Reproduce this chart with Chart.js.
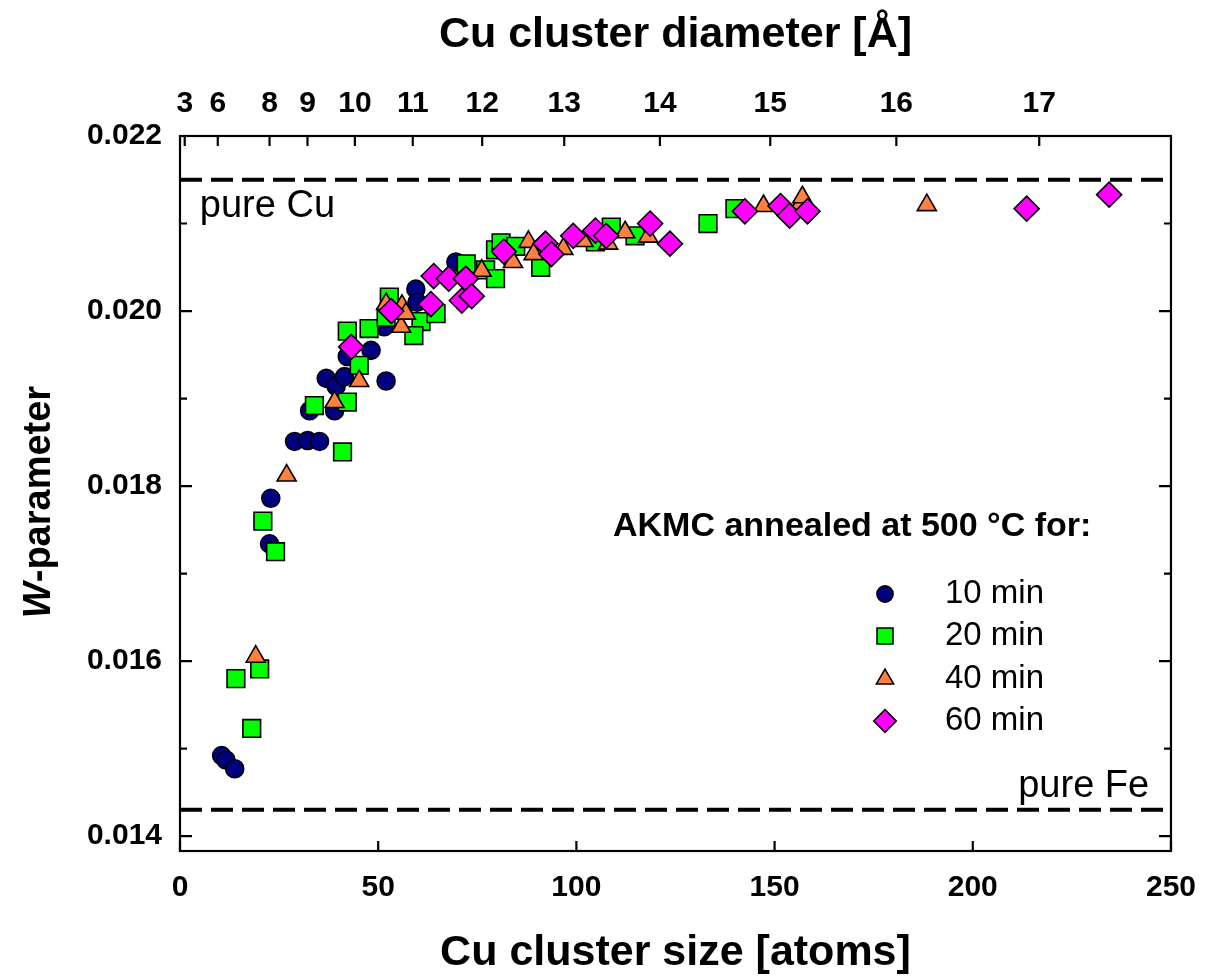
<!DOCTYPE html>
<html>
<head>
<meta charset="utf-8">
<script src="https://cdn.jsdelivr.net/npm/chart.js@4.4.0/dist/chart.umd.min.js"></script>
<style>
  body { margin: 0; background: #fff; }
</style>
</head>
<body>
<canvas id="mycanvas" width="1215" height="979"></canvas>
<script>
/* values */
var seriesNames = ['10 min', '20 min', '40 min', '60 min'];

var size10 = [10.5, 11.6, 13.8, 22.6, 22.9, 28.9, 32.2, 35.2, 32.7, 39.0, 36.9, 39.4, 41.5, 52.0, 42.2, 48.2, 51.5, 59.5, 59.8, 69.6];
var w10 = [0.01492, 0.01487, 0.01477, 0.01734, 0.01786, 0.01851, 0.01852, 0.01851, 0.01886, 0.01886, 0.01923, 0.01914, 0.01925, 0.01920, 0.01948, 0.01955, 0.01982, 0.02025, 0.02010, 0.02056];

var size20 = [14.1, 18.1, 20.1, 20.9, 24.1, 41.0, 33.9, 42.2, 45.2, 42.2, 47.7, 52.8, 52.0, 60.8, 59.0, 64.6, 72.2, 77.1, 79.6, 79.6, 81.0, 84.7, 91.0, 104.8, 108.8, 114.8, 133.2, 140.0];
var w20 = [0.01580, 0.01523, 0.01591, 0.01760, 0.01725, 0.01839, 0.01892, 0.01896, 0.01938, 0.01977, 0.01980, 0.02016, 0.01993, 0.01988, 0.01972, 0.01997, 0.02054, 0.02047, 0.02037, 0.02070, 0.02078, 0.02074, 0.02050, 0.02079, 0.02096, 0.02086, 0.02100, 0.02117];

var size40 = [19.1, 26.9, 39.0, 45.2, 52.0, 55.8, 56.0, 57.0, 76.1, 84.0, 87.9, 89.2, 96.7, 101.8, 108.0, 112.3, 118.1, 147.2, 156.5, 157.0, 188.4];
var w40 = [0.01605, 0.01812, 0.01896, 0.01920, 0.02008, 0.01982, 0.02006, 0.01997, 0.02046, 0.02056, 0.02079, 0.02065, 0.02071, 0.02080, 0.02077, 0.02090, 0.02085, 0.02120, 0.02122, 0.02130, 0.02121];

var size60 = [43.2, 53.3, 63.3, 64.0, 67.8, 72.1, 71.1, 73.6, 81.7, 92.2, 93.7, 99.2, 104.8, 107.5, 118.6, 123.6, 142.5, 151.5, 153.8, 158.3, 213.6, 234.4];
var w60 = [0.01959, 0.02000, 0.02008, 0.02040, 0.02037, 0.02037, 0.02012, 0.02017, 0.02068, 0.02077, 0.02065, 0.02086, 0.02092, 0.02086, 0.02100, 0.02077, 0.02114, 0.02120, 0.02109, 0.02114, 0.02117, 0.02133];

var pureCu = 0.0215;
var pureFe = 0.0143;

/* tick labels */
var xTicks = [0, 50, 100, 150, 200, 250];
var yTicks = [0.014, 0.016, 0.018, 0.020, 0.022];
var yMinor = [0.014, 0.015, 0.016, 0.017, 0.018, 0.019, 0.020, 0.021, 0.022];
var diamLabels = [3, 6, 8, 9, 10, 11, 12, 13, 14, 15, 16, 17];

/* cluster diameter [A] -> number of atoms, for the top axis */
function atomsForDiameter(d) {
	return Math.pow(d / 2.83, 3);
}

function toPoints(xs, ys) {
	var pts = [];
	for (var i in xs) {
		pts.push({x: xs[i], y: ys[i]});
	}
	return pts;
}

var FONT = "'Liberation Sans', Arial, Helvetica, sans-serif";
Chart.defaults.font.family = FONT;
Chart.defaults.color = '#000';

var markers = [
	{style: 'circle', radius: 9, color: '#000080'},
	{style: 'rect', radius: 12.5, color: '#00ff00'},
	{style: 'triangle', radius: 11, color: '#ff8040'},
	{style: 'rectRot', radius: 12.5, color: '#ff00ff'}
];
var seriesData = [toPoints(size10, w10), toPoints(size20, w20), toPoints(size40, w40), toPoints(size60, w60)];

var datasets = [];
for (var s = 0; s < 4; s++) {
	datasets.push({
		label: seriesNames[s],
		data: seriesData[s],
		pointStyle: markers[s].style,
		pointRadius: markers[s].radius,
		pointBackgroundColor: markers[s].color,
		pointBorderColor: '#000',
		pointBorderWidth: 1.6,
		showLine: false,
		order: 3 - s
	});
}

/* pure Cu / pure Fe reference lines */
[pureCu, pureFe].forEach(function(v) {
	datasets.push({
		label: 'ref',
		data: [{x: 0, y: v}, {x: 250, y: v}],
		showLine: true,
		borderColor: '#000',
		borderWidth: 4,
		borderDash: [22, 9],
		pointRadius: 0,
		order: 10
	});
});

/* frame, inward ticks, notes, legend, y title */
var decorPlugin = {
	id: 'decor',
	afterDraw: function(chart) {
		var ctx = chart.ctx, a = chart.chartArea;
		var sx = chart.scales.x, sx2 = chart.scales.x2, sy = chart.scales.y;
		ctx.save();
		ctx.strokeStyle = '#000';
		ctx.lineWidth = 2.2;
		ctx.strokeRect(a.left, a.top, a.right - a.left, a.bottom - a.top);

		ctx.beginPath();
		yMinor.forEach(function(v, i) {
			var p = sy.getPixelForValue(v);
			var len = (i % 2 === 0) ? 12 : 7;
			ctx.moveTo(a.left, p); ctx.lineTo(a.left + len, p);
			ctx.moveTo(a.right, p); ctx.lineTo(a.right - len, p);
		});
		xTicks.forEach(function(v) {
			var p = sx.getPixelForValue(v);
			ctx.moveTo(p, a.bottom); ctx.lineTo(p, a.bottom - 10);
		});
		diamLabels.forEach(function(d) {
			var p = sx2.getPixelForValue(atomsForDiameter(d));
			ctx.moveTo(p, a.top); ctx.lineTo(p, a.top + 10);
		});
		ctx.stroke();

		/* notes on the reference lines */
		ctx.fillStyle = '#000';
		ctx.textBaseline = 'middle';
		ctx.font = '38px ' + FONT;
		ctx.textAlign = 'left';
		ctx.fillText('pure Cu', sx.getPixelForValue(5), sy.getPixelForValue(pureCu) + 27);
		ctx.textAlign = 'right';
		ctx.fillText('pure Fe', sx.getPixelForValue(244.5), sy.getPixelForValue(pureFe) - 23);

		/* legend */
		ctx.textAlign = 'left';
		ctx.font = 'bold 34px ' + FONT;
		ctx.fillText('AKMC annealed at 500 \u00B0C for:', 613, 527);
		ctx.font = '33px ' + FONT;
		var rows = [594, 636, 679, 721];
		for (var i = 0; i < 4; i++) {
			ctx.fillStyle = markers[i].color;
			ctx.strokeStyle = '#000';
			ctx.lineWidth = 1.6;
			Chart.helpers.drawPoint(ctx, {
				pointStyle: markers[i].style,
				radius: markers[i].radius * 0.9,
				rotation: 0,
				borderWidth: 1.6
			}, 885, rows[i]);
			ctx.fillStyle = '#000';
			ctx.fillText(seriesNames[i], 945, rows[i]);
		}

		/* y axis title with italic W */
		ctx.translate(40, 502);
		ctx.rotate(-Math.PI / 2);
		ctx.font = 'italic bold 38px ' + FONT;
		var wW = ctx.measureText('W').width;
		ctx.font = 'bold 38px ' + FONT;
		var wRest = ctx.measureText('-parameter').width;
		var start = -(wW + wRest) / 2;
		ctx.textAlign = 'left';
		ctx.font = 'italic bold 38px ' + FONT;
		ctx.fillText('W', start, 0);
		ctx.font = 'bold 38px ' + FONT;
		ctx.fillText('-parameter', start + wW, 0);
		ctx.restore();
	}
};

var tickFont = {family: FONT, size: 30, weight: 'bold'};
var titleFont = {family: FONT, size: 43, weight: 'bold'};

var ctx = document.getElementById('mycanvas');
var scatterChart = new Chart(ctx, {
	type: 'scatter',
	data: {datasets: datasets},
	options: {
		responsive: false,
		animation: false,
		layout: {padding: 0},
		plugins: {
			legend: {display: false},
			tooltip: {enabled: false}
		},
		scales: {
			x: {
				type: 'linear',
				position: 'bottom',
				min: 0,
				max: 250,
				afterBuildTicks: function(axis) {
					axis.ticks = xTicks.map(function(v) { return {value: v}; });
				},
				ticks: {font: tickFont, padding: 19, maxRotation: 0, autoSkip: false},
				grid: {display: false, drawTicks: false},
				border: {display: false},
				title: {display: true, text: 'Cu cluster size [atoms]', font: titleFont, padding: {top: 0, bottom: 0}},
				afterFit: function(axis) { axis.height = 128; }
			},
			x2: {
				type: 'linear',
				position: 'top',
				display: true,
				min: 0,
				max: 250,
				afterBuildTicks: function(axis) {
					axis.ticks = diamLabels.map(function(d) { return {value: atomsForDiameter(d)}; });
				},
				ticks: {
					font: tickFont, padding: 14, maxRotation: 0, autoSkip: false,
					callback: function(value, index) { return String(diamLabels[index]); }
				},
				grid: {display: false, drawTicks: false},
				border: {display: false},
				title: {display: true, text: 'Cu cluster diameter [\u00C5]', font: titleFont, padding: {top: 9, bottom: 0}},
				afterFit: function(axis) { axis.height = 136; }
			},
			y: {
				type: 'linear',
				position: 'left',
				min: 0.01383,
				max: 0.022,
				afterBuildTicks: function(axis) {
					axis.ticks = yTicks.map(function(v) { return {value: v}; });
				},
				ticks: {
					font: tickFont, padding: 18,
					callback: function(value) { return value.toFixed(3); }
				},
				grid: {display: false, drawTicks: false},
				border: {display: false},
				afterFit: function(axis) { axis.width = 180; }
			},
			y2: {
				type: 'linear',
				position: 'right',
				display: true,
				min: 0.01383,
				max: 0.022,
				ticks: {display: false},
				grid: {display: false, drawTicks: false},
				border: {display: false},
				afterFit: function(axis) { axis.width = 40; }
			}
		}
	},
	plugins: [decorPlugin]
});
</script>
</body>
</html>
